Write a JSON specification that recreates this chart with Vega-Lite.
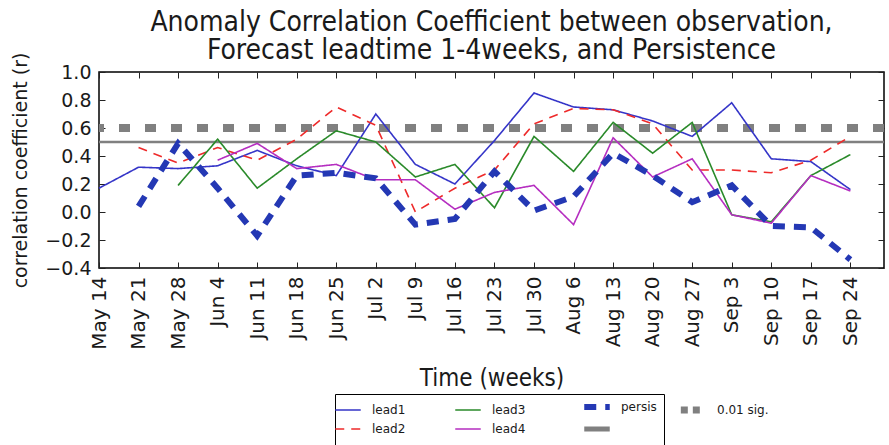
{
  "$schema": "https://vega.github.io/schema/vega-lite/v6.json",
  "width": 785,
  "height": 196,
  "autosize": "none",
  "padding": {"left": 99, "top": 72, "right": 5, "bottom": 177},
  "background": "white",
  "title": {
    "text": ["Anomaly Correlation Coefficient between observation,", "Forecast leadtime 1-4weeks, and Persistence"],
    "font": "DejaVu Sans Condensed",
    "fontSize": 28,
    "fontWeight": "normal",
    "color": "#1a1a1a",
    "anchor": "middle",
    "offset": -13,
    "lineHeight": 28.5
  },
  "config": {
    "view": {"stroke": "black", "strokeWidth": 1.5},
    "axis": {"grid": false, "domain": false, "tickColor": "#222", "labelColor": "#1a1a1a", "titleColor": "#1a1a1a", "titleFontWeight": "normal"}
  },
  "resolve": {"axis": {"x": "independent", "y": "independent"}},
  "datasets": {
    "lines": [
      {"i": 0, "week": "May 14", "series": "lead1", "r": 0.17},
      {"i": 1, "week": "May 21", "series": "lead1", "r": 0.32},
      {"i": 2, "week": "May 28", "series": "lead1", "r": 0.31},
      {"i": 3, "week": "Jun 4", "series": "lead1", "r": 0.33},
      {"i": 4, "week": "Jun 11", "series": "lead1", "r": 0.44},
      {"i": 5, "week": "Jun 18", "series": "lead1", "r": 0.33},
      {"i": 6, "week": "Jun 25", "series": "lead1", "r": 0.26},
      {"i": 7, "week": "Jul 2", "series": "lead1", "r": 0.70},
      {"i": 8, "week": "Jul 9", "series": "lead1", "r": 0.34},
      {"i": 9, "week": "Jul 16", "series": "lead1", "r": 0.20},
      {"i": 10, "week": "Jul 23", "series": "lead1", "r": 0.51},
      {"i": 11, "week": "Jul 30", "series": "lead1", "r": 0.85},
      {"i": 12, "week": "Aug 6", "series": "lead1", "r": 0.75},
      {"i": 13, "week": "Aug 13", "series": "lead1", "r": 0.73},
      {"i": 14, "week": "Aug 20", "series": "lead1", "r": 0.65},
      {"i": 15, "week": "Aug 27", "series": "lead1", "r": 0.54},
      {"i": 16, "week": "Sep 3", "series": "lead1", "r": 0.78},
      {"i": 17, "week": "Sep 10", "series": "lead1", "r": 0.38},
      {"i": 18, "week": "Sep 17", "series": "lead1", "r": 0.36},
      {"i": 19, "week": "Sep 24", "series": "lead1", "r": 0.16},

      {"i": 1, "week": "May 21", "series": "lead2", "r": 0.46},
      {"i": 2, "week": "May 28", "series": "lead2", "r": 0.35},
      {"i": 3, "week": "Jun 4", "series": "lead2", "r": 0.46},
      {"i": 4, "week": "Jun 11", "series": "lead2", "r": 0.37},
      {"i": 5, "week": "Jun 18", "series": "lead2", "r": 0.52},
      {"i": 6, "week": "Jun 25", "series": "lead2", "r": 0.75},
      {"i": 7, "week": "Jul 2", "series": "lead2", "r": 0.62},
      {"i": 8, "week": "Jul 9", "series": "lead2", "r": 0.0},
      {"i": 9, "week": "Jul 16", "series": "lead2", "r": 0.17},
      {"i": 10, "week": "Jul 23", "series": "lead2", "r": 0.30},
      {"i": 11, "week": "Jul 30", "series": "lead2", "r": 0.63},
      {"i": 12, "week": "Aug 6", "series": "lead2", "r": 0.74},
      {"i": 13, "week": "Aug 13", "series": "lead2", "r": 0.73},
      {"i": 14, "week": "Aug 20", "series": "lead2", "r": 0.63},
      {"i": 15, "week": "Aug 27", "series": "lead2", "r": 0.30},
      {"i": 16, "week": "Sep 3", "series": "lead2", "r": 0.30},
      {"i": 17, "week": "Sep 10", "series": "lead2", "r": 0.28},
      {"i": 18, "week": "Sep 17", "series": "lead2", "r": 0.37},
      {"i": 19, "week": "Sep 24", "series": "lead2", "r": 0.54},

      {"i": 2, "week": "May 28", "series": "lead3", "r": 0.19},
      {"i": 3, "week": "Jun 4", "series": "lead3", "r": 0.52},
      {"i": 4, "week": "Jun 11", "series": "lead3", "r": 0.17},
      {"i": 5, "week": "Jun 18", "series": "lead3", "r": 0.38},
      {"i": 6, "week": "Jun 25", "series": "lead3", "r": 0.58},
      {"i": 7, "week": "Jul 2", "series": "lead3", "r": 0.50},
      {"i": 8, "week": "Jul 9", "series": "lead3", "r": 0.25},
      {"i": 9, "week": "Jul 16", "series": "lead3", "r": 0.34},
      {"i": 10, "week": "Jul 23", "series": "lead3", "r": 0.03},
      {"i": 11, "week": "Jul 30", "series": "lead3", "r": 0.54},
      {"i": 12, "week": "Aug 6", "series": "lead3", "r": 0.29},
      {"i": 13, "week": "Aug 13", "series": "lead3", "r": 0.64},
      {"i": 14, "week": "Aug 20", "series": "lead3", "r": 0.42},
      {"i": 15, "week": "Aug 27", "series": "lead3", "r": 0.64},
      {"i": 16, "week": "Sep 3", "series": "lead3", "r": -0.02},
      {"i": 17, "week": "Sep 10", "series": "lead3", "r": -0.07},
      {"i": 18, "week": "Sep 17", "series": "lead3", "r": 0.26},
      {"i": 19, "week": "Sep 24", "series": "lead3", "r": 0.41},

      {"i": 3, "week": "Jun 4", "series": "lead4", "r": 0.37},
      {"i": 4, "week": "Jun 11", "series": "lead4", "r": 0.49},
      {"i": 5, "week": "Jun 18", "series": "lead4", "r": 0.31},
      {"i": 6, "week": "Jun 25", "series": "lead4", "r": 0.34},
      {"i": 7, "week": "Jul 2", "series": "lead4", "r": 0.23},
      {"i": 8, "week": "Jul 9", "series": "lead4", "r": 0.23},
      {"i": 9, "week": "Jul 16", "series": "lead4", "r": 0.02},
      {"i": 10, "week": "Jul 23", "series": "lead4", "r": 0.14},
      {"i": 11, "week": "Jul 30", "series": "lead4", "r": 0.19},
      {"i": 12, "week": "Aug 6", "series": "lead4", "r": -0.09},
      {"i": 13, "week": "Aug 13", "series": "lead4", "r": 0.53},
      {"i": 14, "week": "Aug 20", "series": "lead4", "r": 0.25},
      {"i": 15, "week": "Aug 27", "series": "lead4", "r": 0.38},
      {"i": 16, "week": "Sep 3", "series": "lead4", "r": -0.02},
      {"i": 17, "week": "Sep 10", "series": "lead4", "r": -0.08},
      {"i": 18, "week": "Sep 17", "series": "lead4", "r": 0.26},
      {"i": 19, "week": "Sep 24", "series": "lead4", "r": 0.15},

      {"i": 1, "week": "May 21", "series": "persis", "r": 0.04},
      {"i": 2, "week": "May 28", "series": "persis", "r": 0.49},
      {"i": 3, "week": "Jun 4", "series": "persis", "r": 0.17},
      {"i": 4, "week": "Jun 11", "series": "persis", "r": -0.17},
      {"i": 5, "week": "Jun 18", "series": "persis", "r": 0.26},
      {"i": 6, "week": "Jun 25", "series": "persis", "r": 0.28},
      {"i": 7, "week": "Jul 2", "series": "persis", "r": 0.24},
      {"i": 8, "week": "Jul 9", "series": "persis", "r": -0.09},
      {"i": 9, "week": "Jul 16", "series": "persis", "r": -0.05},
      {"i": 10, "week": "Jul 23", "series": "persis", "r": 0.29},
      {"i": 11, "week": "Jul 30", "series": "persis", "r": 0.01},
      {"i": 12, "week": "Aug 6", "series": "persis", "r": 0.11},
      {"i": 13, "week": "Aug 13", "series": "persis", "r": 0.42},
      {"i": 14, "week": "Aug 20", "series": "persis", "r": 0.26},
      {"i": 15, "week": "Aug 27", "series": "persis", "r": 0.07},
      {"i": 16, "week": "Sep 3", "series": "persis", "r": 0.19},
      {"i": 17, "week": "Sep 10", "series": "persis", "r": -0.10},
      {"i": 18, "week": "Sep 17", "series": "persis", "r": -0.11},
      {"i": 19, "week": "Sep 24", "series": "persis", "r": -0.34}
    ],
    "ref": [{"series": "ref", "r": 0.5}],
    "sig": [{"series": "0.01 sig.", "r": 0.6}]
  },
  "layer": [
    {
      "data": {"name": "sig"},
      "mark": {"type": "rule", "strokeWidth": 8, "strokeDash": [11, 15]},
      "encoding": {
        "y": {"field": "r", "type": "quantitative", "scale": {"domain": [-0.4, 1.0], "nice": false, "zero": false}, "axis": null},
        "stroke": {
          "field": "series",
          "type": "nominal",
          "scale": {"range": ["#808080"]},
          "legend": {"orient": "none", "legendX": 578, "legendY": 323, "title": null, "symbolType": "stroke", "symbolDash": [7, 5], "symbolStrokeWidth": 7, "symbolSize": 500, "labelFontSize": 12, "labelFont": "DejaVu Sans", "labelColor": "#1a1a1a", "labelOffset": 10}
        }
      }
    },
    {
      "data": {"name": "ref"},
      "mark": {"type": "rule"},
      "encoding": {
        "y": {"field": "r", "type": "quantitative", "axis": null},
        "color": {"field": "series", "type": "nominal"},
        "strokeDash": {"field": "series", "type": "nominal"},
        "strokeWidth": {"field": "series", "type": "nominal"}
      }
    },
    {
      "data": {"name": "lines"},
      "mark": {"type": "point", "opacity": 0},
      "encoding": {
        "x": {
          "field": "i", "type": "quantitative",
          "axis": {"orient": "top", "values": [0,1,2,3,4,5,6,7,8,9,10,11,12,13,14,15,16,17,18,19], "labels": false, "title": null, "tickSize": -6}
        },
        "y": {
          "field": "r", "type": "quantitative",
          "axis": {"orient": "right", "values": [-0.4, -0.2, 0, 0.2, 0.4, 0.6, 0.8, 1.0], "labels": false, "title": null, "tickSize": -6}
        }
      }
    },
    {
      "data": {"name": "lines"},
      "mark": {"type": "line", "strokeCap": "butt"},
      "encoding": {
        "x": {
          "field": "i",
          "type": "quantitative",
          "scale": {"domain": [0, 19.85], "nice": false, "zero": false},
          "axis": {
            "orient": "bottom",
            "values": [0,1,2,3,4,5,6,7,8,9,10,11,12,13,14,15,16,17,18,19],
            "labelExpr": "['May 14','May 21','May 28','Jun 4','Jun 11','Jun 18','Jun 25','Jul 2','Jul 9','Jul 16','Jul 23','Jul 30','Aug 6','Aug 13','Aug 20','Aug 27','Sep 3','Sep 10','Sep 17','Sep 24'][datum.value]",
            "labelAngle": -90,
            "labelFont": "DejaVu Sans",
            "labelFontSize": 20,
            "labelPadding": 14,
            "labelFlush": false,
            "tickSize": -6,
            "labelOverlap": false,
            "title": "Time (weeks)",
            "titleFont": "DejaVu Sans Condensed",
            "titleFontSize": 24,
            "titlePadding": 17
          }
        },
        "y": {
          "field": "r",
          "type": "quantitative",
          "axis": {
            "orient": "left",
            "values": [-0.4, -0.2, 0, 0.2, 0.4, 0.6, 0.8, 1.0],
            "format": ".1f",
            "labelFont": "DejaVu Sans",
            "labelFontSize": 19,
            "labelPadding": 14,
            "labelFlush": false,
            "labelOverlap": false,
            "tickSize": -6,
            "title": "correlation coefficient (r)",
            "titleFont": "DejaVu Sans",
            "titleFontSize": 19,
            "titlePadding": 14
          }
        },
        "color": {
          "field": "series",
          "type": "nominal",
          "scale": {
            "domain": ["lead1", "lead3", "persis", "lead2", "lead4", "ref"],
            "range": ["#3535c8", "#2a8a2a", "#2438b4", "#ee2a2a", "#b52ec0", "#808080"]
          },
          "legend": {
            "orient": "none", "legendX": 236, "legendY": 322,
            "title": null, "direction": "horizontal", "columns": 3,
            "symbolType": "stroke", "symbolSize": 650,
            "labelFont": "DejaVu Sans", "labelFontSize": 12, "labelColor": "#1a1a1a", "labelOffset": 18,
            "columnPadding": 46, "rowPadding": 0,
            "strokeColor": "black", "padding": 7,
            "labelExpr": "datum.label == 'ref' ? '' : datum.label",
            "encode": {
              "symbols": {
                "update": {
                  "strokeWidth": {"signal": "datum.label == 'persis' ? 6 : datum.label == 'ref' ? 5 : 1.6"},
                  "strokeDash": {"signal": "datum.label == 'persis' ? [16, 40] : datum.label == 'lead2' ? [8, 9] : [1, 0]"}
                }
              }
            }
          }
        },
        "strokeDash": {
          "field": "series",
          "type": "nominal",
          "scale": {
            "domain": ["lead1", "lead3", "persis", "lead2", "lead4", "ref"],
            "range": [[1, 0], [1, 0], [12, 9], [9, 7], [1, 0], [1, 0]]
          }
        },
        "strokeWidth": {
          "field": "series",
          "type": "nominal",
          "scale": {
            "type": "ordinal",
            "domain": ["lead1", "lead3", "persis", "lead2", "lead4", "ref"],
            "range": [1.6, 1.6, 6, 1.6, 1.6, 3.5]
          }
        }
      }
    }
  ]
}
